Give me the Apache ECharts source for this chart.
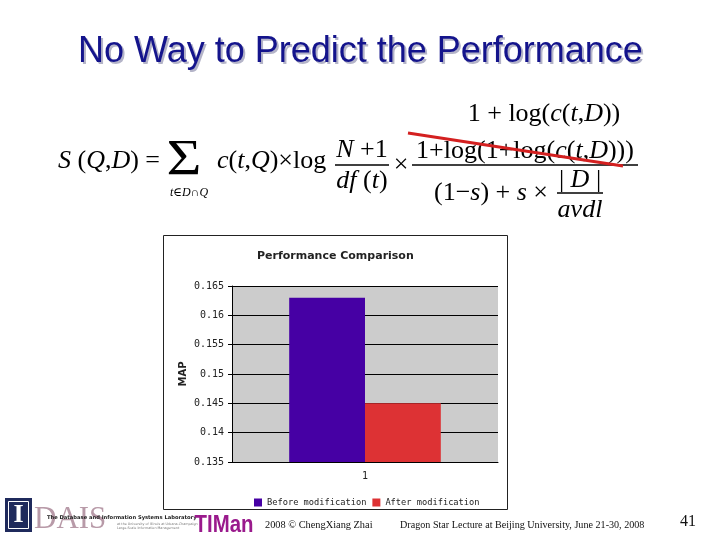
<!DOCTYPE html>
<html>
<head>
<meta charset="utf-8">
<script src="https://cdn.jsdelivr.net/npm/echarts@6/dist/echarts.min.js"></script>
<style>
html,body{margin:0;padding:0;background:#ffffff;}
#main{width:720px;height:540px;}
</style>
</head>
<body>
<div id="main"></div>
<script>
// ---- data ----
var categories = ['1'];
var seriesNames = ['Before modification', 'After modification'];
var beforeValues = [0.163];
var afterValues = [0.145];
var yTicks = [0.135, 0.14, 0.145, 0.15, 0.155, 0.16, 0.165];
var chartTitle = 'Performance Comparison';
var yAxisName = 'MAP';
var slideTitle = 'No Way to Predict the Performance';
var footerLeft = '2008 \u00A9 ChengXiang Zhai';
var footerMid = 'Dragon Star Lecture at Beijing University, June 21-30, 2008';
var pageNumber = '41';

var serif = '"Liberation Serif", "DejaVu Serif", serif';
function richFor(size) {
  return {
    i: {fontFamily: serif, fontStyle: 'italic', fontSize: size, fill: '#000'},
    r: {fontFamily: serif, fontSize: size, fill: '#000'}
  };
}
function mtext(x, y, rich, align, size) {
  size = size || 26;
  return {
    type: 'text', x: x, y: y, z: 5,
    style: {text: rich, rich: richFor(size), align: align || 'left', verticalAlign: 'middle',
            font: size + 'px ' + serif}
  };
}
function hline(x1, x2, y, w, c) {
  return {type: 'line', z: 5, shape: {x1: x1, y1: y, x2: x2, y2: y},
          style: {stroke: c || '#000', lineWidth: w || 1.3}};
}

var chart = echarts.init(document.getElementById('main'));
var option = {
  backgroundColor: '#ffffff',
  animation: false,
  title: {
    text: chartTitle,
    left: 252, top: 246,
    textStyle: {fontFamily: '"DejaVu Sans", Verdana, sans-serif', fontWeight: 'bold', fontSize: 11, color: '#222'}
  },
  legend: {
    left: 249, top: 493,
    itemWidth: 8, itemHeight: 8, itemGap: 6,
    icon: 'rect',
    data: seriesNames,
    textStyle: {fontFamily: '"DejaVu Sans Mono", monospace', fontSize: 8.7, color: '#222'}
  },
  grid: {
    left: 232, right: 222, top: 286, bottom: 78,
    show: true, backgroundColor: '#cccccc', borderWidth: 0
  },
  xAxis: {
    type: 'category',
    data: categories,
    axisLine: {show: true, lineStyle: {color: '#000', width: 1}},
    axisTick: {show: false},
    axisLabel: {margin: 9, fontFamily: '"DejaVu Sans Mono", monospace', fontSize: 10, color: '#222'}
  },
  yAxis: {
    type: 'value',
    min: yTicks[0], max: yTicks[yTicks.length - 1], interval: 0.005,
    name: yAxisName, nameLocation: 'middle', nameRotate: 90, nameGap: 44,
    nameTextStyle: {fontFamily: '"DejaVu Sans", Verdana, sans-serif', fontWeight: 'bold', fontSize: 10, color: '#222'},
    axisLine: {show: true, lineStyle: {color: '#000', width: 1}},
    axisTick: {show: true, length: 4, lineStyle: {color: '#000'}},
    axisLabel: {
      margin: 8,
      fontFamily: '"DejaVu Sans Mono", monospace', fontSize: 10, color: '#222',
      formatter: function (v) { return String(parseFloat(v.toFixed(3))); }
    },
    splitLine: {show: true, lineStyle: {color: '#000', width: 1}}
  },
  series: [
    {name: seriesNames[0], type: 'bar', data: beforeValues, barGap: '0%', barCategoryGap: '43%',
     itemStyle: {color: '#4600a4'}},
    {name: seriesNames[1], type: 'bar', data: afterValues, barGap: '0%', barCategoryGap: '43%',
     itemStyle: {color: '#dd3234'}}
  ],
  graphic: {elements: [
    // chart frame
    {type: 'rect', z: -10, shape: {x: 163.5, y: 235.5, width: 344, height: 274},
     style: {fill: 'rgba(0,0,0,0)', stroke: '#222', lineWidth: 1}},
    // slide title (shadow + text)
    {type: 'text', x: 80, y: 54, z: 5,
     style: {text: slideTitle, font: '36px "Liberation Sans", Arial, sans-serif', fill: '#b4b4c8', verticalAlign: 'middle'}},
    {type: 'text', x: 78, y: 52, z: 6,
     style: {text: slideTitle, font: '36px "Liberation Sans", Arial, sans-serif', fill: '#14148c', verticalAlign: 'middle'}},
    // formula
    mtext(58, 161, '{i|S} {r|(}{i|Q},{i|D}{r|) =}'),
    {type: 'text', x: 184, y: 161, z: 5, scaleX: 1.2,
     style: {text: '\u03A3', font: '50px ' + serif, fill: '#000', align: 'center', verticalAlign: 'middle'}},
    mtext(189, 193, '{i|t}{r|\u2208}{i|D}{r|\u2229}{i|Q}', 'center', 12),
    mtext(217, 161, '{i|c}{r|(}{i|t},{i|Q}{r|)\u00D7log}'),
    mtext(362, 150, '{i|N}{r| +1}', 'center'),
    hline(335, 389, 165),
    mtext(362, 181, '{i|df}{r| (}{i|t}{r|)}', 'center'),
    mtext(401, 165, '{r|\u00D7}', 'center'),
    mtext(544, 114, '{r|1 + log(}{i|c}{r|(}{i|t},{i|D}{r|))}', 'center'),
    mtext(525, 151, '{r|1+log(1+log(}{i|c}{r|(}{i|t},{i|D}{r|)))}', 'center'),
    hline(412, 638, 165),
    mtext(491, 193, '{r|(1\u2212}{i|s}{r|) + }{i|s}{r| \u00D7}', 'center'),
    mtext(580, 180, '{r|| }{i|D}{r| |}', 'center'),
    hline(557, 603, 193),
    mtext(580, 210, '{i|avdl}', 'center'),
    {type: 'line', z: 7, shape: {x1: 408, y1: 133, x2: 623, y2: 166},
     style: {stroke: '#d42020', lineWidth: 3}},
    // footer logos (approximations)
    {type: 'rect', z: 5, shape: {x: 5, y: 498, width: 27, height: 34}, style: {fill: '#1f2a5c'}},
    {type: 'rect', z: 6, shape: {x: 8.5, y: 501.5, width: 20, height: 27}, style: {fill: 'none', stroke: '#ffffff', lineWidth: 1}},
    {type: 'text', x: 18.5, y: 515, z: 6,
     style: {text: 'I', font: 'bold 26px ' + serif, fill: '#ffffff', align: 'center', verticalAlign: 'middle'}},
    {type: 'text', x: 34, y: 520, z: 5,
     style: {text: 'DAIS', font: '31px ' + serif, fill: '#b89aa8', verticalAlign: 'middle'}},
    {type: 'text', x: 47, y: 518, z: 6,
     style: {text: 'The Database and Information Systems Laboratory', font: 'bold 5.2px "DejaVu Sans", sans-serif', fill: '#222', verticalAlign: 'middle'}},
    {type: 'text', x: 117, y: 524, z: 6,
     style: {text: 'at the University of Illinois at Urbana-Champaign', font: '3.3px "DejaVu Sans", sans-serif', fill: '#777', verticalAlign: 'middle'}},
    {type: 'text', x: 117, y: 528, z: 6,
     style: {text: 'Large-Scale Information Management', font: '3.3px "DejaVu Sans", sans-serif', fill: '#777', verticalAlign: 'middle'}},
    {type: 'text', x: 224, y: 525, z: 6, scaleX: 0.85,
     style: {text: 'TIMan', font: 'bold 24px "Liberation Sans", Arial, sans-serif', fill: '#9a1a8c', align: 'center', verticalAlign: 'middle'}},
    // footer text
    {type: 'text', x: 265, y: 525, z: 5, scaleX: 0.94,
     style: {text: footerLeft, font: '11px ' + serif, fill: '#111', verticalAlign: 'middle'}},
    {type: 'text', x: 400, y: 525, z: 5, scaleX: 0.92,
     style: {text: footerMid, font: '11px ' + serif, fill: '#111', verticalAlign: 'middle'}},
    {type: 'text', x: 688, y: 522, z: 5,
     style: {text: pageNumber, font: '16px ' + serif, fill: '#111', align: 'center', verticalAlign: 'middle'}}
  ]}
};
chart.setOption(option);
</script>
</body>
</html>
